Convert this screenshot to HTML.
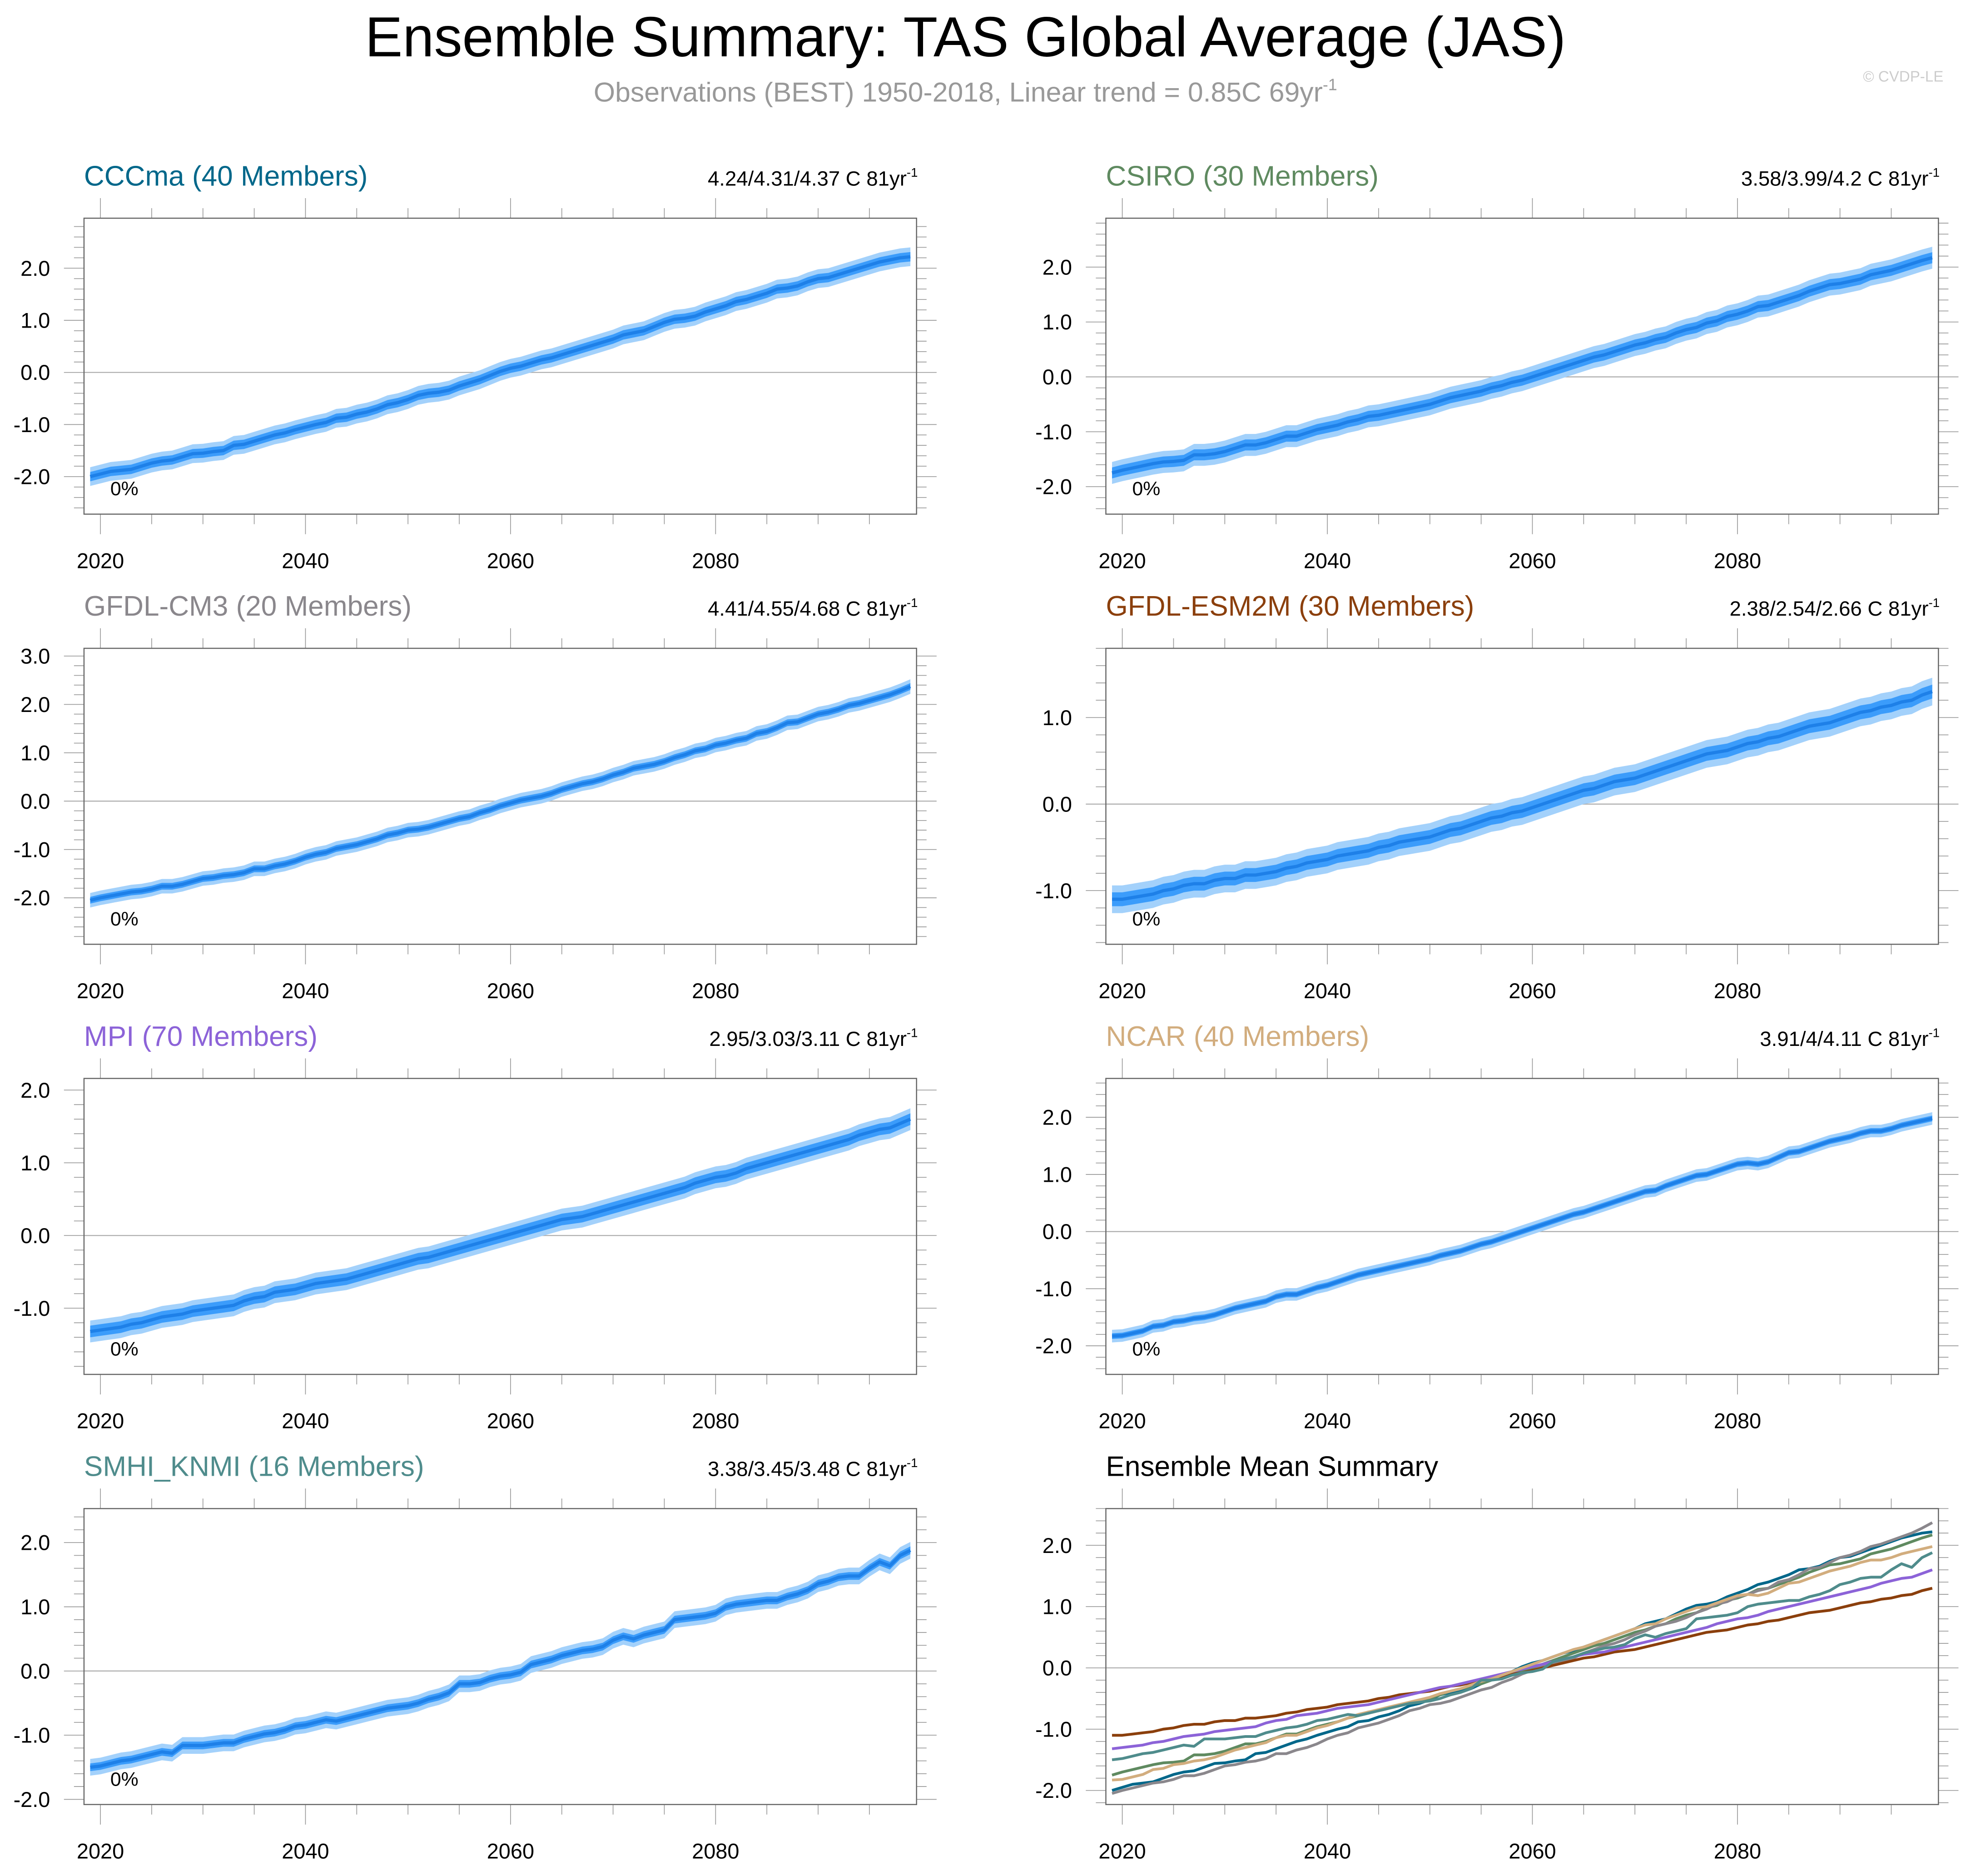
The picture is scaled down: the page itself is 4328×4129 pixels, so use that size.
<!DOCTYPE html>
<html><head><meta charset="utf-8"><style>
html,body{margin:0;padding:0;background:#fff}
svg{display:block}
text{font-family:"Liberation Sans",sans-serif}
</style></head><body>
<svg id="fig" xmlns="http://www.w3.org/2000/svg" width="4328" height="4129" viewBox="0 0 1568 1496" preserveAspectRatio="none">
<rect width="1568" height="1496" fill="#fff"/>
<text x="770" y="45" font-size="45" text-anchor="middle" fill="#000">Ensemble Summary: TAS Global Average (JAS)</text>
<text x="770" y="81" font-size="22" text-anchor="middle" fill="#999">Observations (BEST) 1950-2018, Linear trend = 0.85C 69yr<tspan dy="-9" font-size="13">-1</tspan></text>
<text x="1550" y="65" font-size="12" text-anchor="end" fill="#ccc">© CVDP-LE</text>
</svg>
<script>
const firstYear = 2019;
const modelNames = ["CCCma (40 Members)","CSIRO (30 Members)","GFDL-CM3 (20 Members)","GFDL-ESM2M (30 Members)","MPI (70 Members)","NCAR (40 Members)","SMHI_KNMI (16 Members)"];
const modelStats = ["4.24/4.31/4.37 C 81yr","3.58/3.99/4.2 C 81yr","4.41/4.55/4.68 C 81yr","2.38/2.54/2.66 C 81yr","2.95/3.03/3.11 C 81yr","3.91/4/4.11 C 81yr","3.38/3.45/3.48 C 81yr"];
const modelColors = ["#00678a","#5f8a60","#8a878c","#8b3f0c","#8c63d8","#d2ad7e","#4f8c8c"];
const spreadOuter = [0.18,0.2,0.15,0.16,0.15,0.11,0.13];
const spreadInner = [0.09,0.1,0.07,0.08,0.08,0.05,0.06];
const yTickSets = [[-2,-1,0,1,2],[-2,-1,0,1,2],[-2,-1,0,1,2,3],[-1,0,1],[-1,0,1,2],[-2,-1,0,1,2],[-2,-1,0,1,2],[-2,-1,0,1,2]];
const yRanges = [[-2.72,2.96],[-2.5,2.89],[-2.96,3.16],[-1.62,1.8],[-1.91,2.16],[-2.5,2.68],[-2.08,2.53],[-2.23,2.6]];
const xTicks = [2020,2040,2060,2080];
const cccma = [-2.00,-1.95,-1.90,-1.88,-1.86,-1.80,-1.74,-1.70,-1.68,-1.62,
-1.56,-1.55,-1.52,-1.50,-1.40,-1.38,-1.32,-1.26,-1.20,-1.16,
-1.10,-1.05,-1.00,-0.96,-0.88,-0.86,-0.80,-0.76,-0.70,-0.62,
-0.58,-0.52,-0.44,-0.40,-0.38,-0.34,-0.26,-0.20,-0.14,-0.06,
0.02,0.08,0.12,0.18,0.24,0.28,0.34,0.40,0.46,0.52,
0.58,0.64,0.72,0.76,0.80,0.88,0.96,1.02,1.04,1.08,
1.16,1.22,1.28,1.36,1.40,1.46,1.52,1.60,1.62,1.66,
1.74,1.80,1.82,1.88,1.94,2.00,2.06,2.12,2.16,2.20,2.22];
const csiro = [-1.75,-1.70,-1.66,-1.62,-1.58,-1.55,-1.54,-1.52,-1.42,-1.42,
-1.40,-1.36,-1.30,-1.24,-1.24,-1.20,-1.14,-1.08,-1.08,-1.02,
-0.96,-0.92,-0.88,-0.82,-0.78,-0.72,-0.70,-0.66,-0.62,-0.58,
-0.54,-0.50,-0.44,-0.38,-0.34,-0.30,-0.26,-0.20,-0.16,-0.10,
-0.06,0.00,0.06,0.12,0.18,0.24,0.30,0.36,0.40,0.46,
0.52,0.58,0.62,0.68,0.72,0.80,0.86,0.90,0.98,1.02,
1.10,1.14,1.20,1.28,1.30,1.36,1.42,1.48,1.56,1.62,
1.68,1.70,1.74,1.78,1.86,1.90,1.94,2.00,2.06,2.12,2.17];
const gfdlcm3 = [-2.05,-2.00,-1.96,-1.92,-1.88,-1.86,-1.82,-1.76,-1.76,-1.72,
-1.66,-1.60,-1.58,-1.54,-1.52,-1.48,-1.40,-1.40,-1.34,-1.30,
-1.24,-1.16,-1.10,-1.06,-0.98,-0.94,-0.90,-0.84,-0.78,-0.70,
-0.66,-0.60,-0.58,-0.54,-0.48,-0.42,-0.36,-0.32,-0.24,-0.18,
-0.10,-0.04,0.02,0.06,0.10,0.16,0.24,0.30,0.36,0.40,
0.46,0.54,0.60,0.68,0.72,0.76,0.82,0.90,0.96,1.04,
1.08,1.16,1.20,1.26,1.30,1.40,1.44,1.52,1.62,1.64,
1.72,1.80,1.84,1.90,1.98,2.02,2.08,2.14,2.20,2.28,2.37];
const gfdlesm2m = [-1.10,-1.10,-1.08,-1.06,-1.04,-1.00,-0.98,-0.94,-0.92,-0.92,
-0.88,-0.86,-0.86,-0.82,-0.82,-0.80,-0.78,-0.74,-0.72,-0.68,
-0.66,-0.64,-0.60,-0.58,-0.56,-0.54,-0.50,-0.48,-0.44,-0.42,
-0.40,-0.38,-0.34,-0.30,-0.28,-0.24,-0.20,-0.16,-0.14,-0.10,
-0.08,-0.04,0.00,0.04,0.08,0.12,0.16,0.18,0.22,0.26,
0.28,0.30,0.34,0.38,0.42,0.46,0.50,0.54,0.58,0.60,
0.62,0.66,0.70,0.72,0.76,0.78,0.82,0.86,0.90,0.92,
0.94,0.98,1.02,1.06,1.08,1.12,1.14,1.18,1.20,1.26,1.30];
const mpi = [-1.32,-1.30,-1.28,-1.26,-1.22,-1.20,-1.16,-1.12,-1.10,-1.08,
-1.04,-1.02,-1.00,-0.98,-0.96,-0.90,-0.86,-0.84,-0.78,-0.76,
-0.74,-0.70,-0.66,-0.64,-0.62,-0.60,-0.56,-0.52,-0.48,-0.44,
-0.40,-0.36,-0.32,-0.30,-0.26,-0.22,-0.18,-0.14,-0.10,-0.06,
-0.02,0.02,0.06,0.10,0.14,0.18,0.22,0.24,0.26,0.30,
0.34,0.38,0.42,0.46,0.50,0.54,0.58,0.62,0.66,0.72,
0.76,0.80,0.82,0.86,0.92,0.96,1.00,1.04,1.08,1.12,
1.16,1.20,1.24,1.28,1.32,1.38,1.42,1.46,1.48,1.54,1.60];
const ncar = [-1.83,-1.82,-1.78,-1.74,-1.66,-1.64,-1.58,-1.56,-1.52,-1.50,
-1.46,-1.40,-1.34,-1.30,-1.26,-1.22,-1.14,-1.10,-1.10,-1.04,
-0.98,-0.94,-0.88,-0.82,-0.76,-0.72,-0.68,-0.64,-0.60,-0.56,
-0.52,-0.48,-0.42,-0.38,-0.34,-0.28,-0.22,-0.18,-0.12,-0.06,
0.00,0.06,0.12,0.18,0.24,0.30,0.34,0.40,0.46,0.52,
0.58,0.64,0.70,0.72,0.80,0.86,0.92,0.98,1.00,1.06,
1.12,1.18,1.20,1.18,1.22,1.30,1.38,1.40,1.46,1.52,
1.58,1.62,1.66,1.72,1.76,1.76,1.80,1.86,1.90,1.94,1.98];
const smhi = [-1.50,-1.48,-1.44,-1.40,-1.38,-1.34,-1.30,-1.26,-1.28,-1.16,
-1.16,-1.16,-1.14,-1.12,-1.12,-1.06,-1.02,-0.98,-0.96,-0.92,
-0.86,-0.84,-0.80,-0.76,-0.78,-0.74,-0.70,-0.66,-0.62,-0.58,
-0.56,-0.54,-0.50,-0.44,-0.40,-0.34,-0.20,-0.20,-0.18,-0.12,
-0.08,-0.06,-0.02,0.10,0.14,0.18,0.24,0.28,0.32,0.34,
0.38,0.48,0.54,0.50,0.56,0.60,0.64,0.80,0.82,0.84,
0.86,0.90,1.00,1.04,1.06,1.08,1.10,1.10,1.16,1.20,
1.26,1.36,1.40,1.46,1.48,1.48,1.60,1.70,1.64,1.80,1.88];
const modelSeries = [cccma,csiro,gfdlcm3,gfdlesm2m,mpi,ncar,smhi];

const NS = "http://www.w3.org/2000/svg";
const svg = document.getElementById('fig');
function mk(tag, attrs, parent){const e=document.createElementNS(NS,tag);for(const k in attrs)e.setAttribute(k,attrs[k]);(parent||svg).appendChild(e);return e;}
const colsX=[67,882], boxW=664, boxH=236, rowsY=[174,517,860,1203];
const xMin=2018.4, xMax=2099.6;

for(let p=0;p<8;p++){
  const L=colsX[p%2], T=rowsY[Math.floor(p/2)], R=L+boxW, B=T+boxH;
  const [y0,y1]=yRanges[p];
  const X=yr=>L+(yr-xMin)/(xMax-xMin)*boxW;
  const Y=v=>B-(v-y0)/(y1-y0)*boxH;
  const g=mk('g',{});
  
  
  const t=mk('text',{x:L,y:T-26,'font-size':22.5,fill:p<7?modelColors[p]:'#000'},g);
  t.textContent = p<7 ? modelNames[p] : 'Ensemble Mean Summary';
  
  
  if(p<7){
    const s=mk('text',{x:R+1,y:T-26,'font-size':16.5,'text-anchor':'end',fill:'#000'},g);
    s.textContent=modelStats[p];
    const sup=mk('tspan',{dy:-7,'font-size':10},s); sup.textContent='-1';
    
    
  }
  for(let yr=2020;yr<=2095;yr+=5){
    const x=X(yr), len=(yr%20===0)?16:8;
    mk('line',{x1:x,x2:x,y1:T,y2:T-len,stroke:'#999','stroke-width':0.6},g);
    mk('line',{x1:x,x2:x,y1:B,y2:B+len,stroke:'#999','stroke-width':0.6},g);
  }
  xTicks.forEach(yr=>{
    const lb=mk('text',{x:X(yr),y:B+43,'font-size':17,'text-anchor':'middle',fill:'#000'},g);
    lb.textContent=yr;
    
    
  });
  for(let v=Math.ceil(y0*5)/5; v<=y1+1e-9; v+=0.2){
    const vv=Math.round(v*10)/10, major=Math.abs(vv-Math.round(vv))<1e-6, len=major?16:8, y=Y(vv);
    mk('line',{x1:L,x2:L-len,y1:y,y2:y,stroke:'#999','stroke-width':0.6},g);
    mk('line',{x1:R,x2:R+len,y1:y,y2:y,stroke:'#999','stroke-width':0.6},g);
  }
  yTickSets[p].forEach(v=>{
    const lb=mk('text',{x:L-27,y:Y(v)+6,'font-size':17,'text-anchor':'end',fill:'#000'},g);
    lb.textContent=v.toFixed(1);
    
    
  });
  mk('line',{x1:L,x2:R,y1:Y(0),y2:Y(0),stroke:'#aaa','stroke-width':0.8},g);
  if(p<7){
    const d=modelSeries[p];
    const band=(w)=>{let up='',dn='';d.forEach((v,i)=>{up+=(i?'L':'M')+X(firstYear+i).toFixed(2)+','+Y(v+w).toFixed(2);});for(let i=d.length-1;i>=0;i--)dn+='L'+X(firstYear+i).toFixed(2)+','+Y(d[i]-w).toFixed(2);return up+dn+'Z';};
    const o=mk('path',{d:band(spreadOuter[p]),fill:'#a3d1fb'},g);
    
    
    const inn=mk('path',{d:band(spreadInner[p]),fill:'#3b9cfb'},g);
    
    
    const ln=mk('polyline',{points:d.map((v,i)=>X(firstYear+i).toFixed(2)+','+Y(v).toFixed(2)).join(' '),fill:'none',stroke:'#1e80e8','stroke-width':2.6,'stroke-linejoin':'round'},g);
    
    
    const pc=mk('text',{x:L+21,y:B-15,'font-size':15.5,fill:'#000'},g);
    pc.textContent='0%';
    
    
  } else {
    modelSeries.forEach((d,m)=>{
      const ln=mk('polyline',{points:d.map((v,i)=>X(firstYear+i).toFixed(2)+','+Y(v).toFixed(2)).join(' '),fill:'none',stroke:modelColors[m],'stroke-width':2.2,'stroke-linejoin':'round'},g);
      
      
    });
  }
  const bx=mk('rect',{x:L,y:T,width:boxW,height:boxH,fill:'none',stroke:'#666','stroke-width':0.9},g);
  
  
}
</script>
</body></html>
